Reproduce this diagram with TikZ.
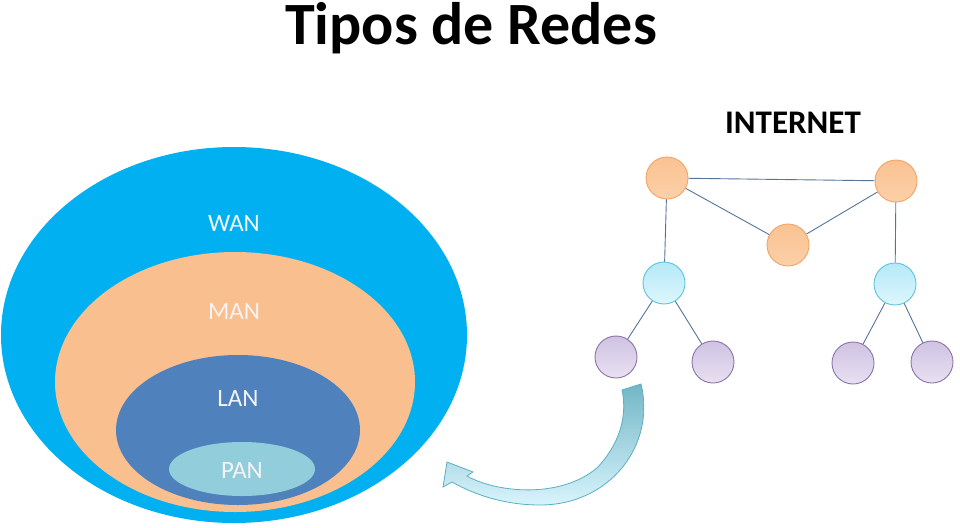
\documentclass[tikz,border=0pt]{standalone}
\usepackage{fontspec}
\setmainfont{Carlito}
\usetikzlibrary{calc}
\definecolor{wanc}{HTML}{00B0F0}
\definecolor{manc}{HTML}{F9BF8F}
\definecolor{lanc}{HTML}{4F81BD}
\definecolor{panc}{HTML}{92CDDC}
\definecolor{edgec}{HTML}{56739A}
\definecolor{orgB}{HTML}{F3A465}
\definecolor{orgT}{HTML}{FAC293}
\definecolor{orgL}{HTML}{FCD0A8}
\definecolor{cyB}{HTML}{5CC3DE}
\definecolor{cyT}{HTML}{B5E9F8}
\definecolor{cyL}{HTML}{DDF6FD}
\definecolor{puB}{HTML}{8B73A8}
\definecolor{puT}{HTML}{CFC3E2}
\definecolor{puL}{HTML}{E8E0F2}
\definecolor{arrB}{HTML}{5AAFC3}
\definecolor{arrD}{HTML}{72B6C6}
\definecolor{arrL}{HTML}{D8F4FC}
\definecolor{labc}{HTML}{F4F4F4}
\tikzset{
  reglabel/.style={text=labc,font=\fontsize{25}{30}\selectfont,inner sep=0pt},
  netnode/.style={circle,minimum size=42pt,inner sep=0pt,line width=0.9pt},
  orgnode/.style={netnode,draw=orgB,top color=orgT,bottom color=orgL},
  cynode/.style={netnode,draw=cyB,top color=cyT,bottom color=cyL},
  punode/.style={netnode,draw=puB,top color=puT,bottom color=puL},
  link/.style={draw=edgec,line width=0.9pt},
}
\begin{document}
\begin{tikzpicture}[x=1pt,y=-1pt]
\useasboundingbox (0,0) rectangle (960,527);
% title
\node[font=\bfseries\fontsize{60}{70}\selectfont,inner sep=0pt,anchor=base] (title) at (471,45) {Tipos de Redes};
% nested ellipses
\fill[wanc] (234,335) ellipse [x radius=233,y radius=188];
\fill[manc] (235,382) ellipse [x radius=180,y radius=130];
\fill[lanc] (238,430) ellipse [x radius=122,y radius=75];
\fill[panc] (242,469) ellipse [x radius=73,y radius=27];
\node[reglabel] (wan) at (234,223) {WAN};
\node[reglabel] (man) at (234,311) {MAN};
\node[reglabel] (lan) at (238,398) {LAN};
\node[reglabel] (pan) at (242,470) {PAN};
% internet label
\node[font=\bfseries\fontsize{33}{38}\selectfont,inner sep=0pt,anchor=base] (inet) at (793,133) {INTERNET};
% network nodes
\node[orgnode] (o1) at (667,178) {};
\node[orgnode] (o2) at (896,181) {};
\node[orgnode] (o3) at (788,245) {};
\node[cynode] (c1) at (664,283) {};
\node[cynode] (c2) at (895,284) {};
\node[punode] (p1) at (616,357) {};
\node[punode] (p2) at (713,362) {};
\node[punode] (p3) at (853,363) {};
\node[punode] (p4) at (932,362) {};
\path[link] (o1) -- (o2);
\path[link] (o1) -- (o3);
\path[link] (o3) -- (o2);
\path[link] (o1) -- (c1);
\path[link] (o2) -- (c2);
\path[link] (c1) -- (p1);
\path[link] (c1) -- (p2);
\path[link] (c2) -- (p3);
\path[link] (c2) -- (p4);
% curved arrow
\path[draw=arrB,line width=0.8pt,top color=arrD,bottom color=arrL]
  (622,390) -- (641,384)
  .. controls (656,445) and (610,505) .. (540,505)
  .. controls (505,505) and (475,495) .. (452,482)
  -- (443,487) -- (447,462) -- (473,472) -- (467,476)
  .. controls (495,492) and (560,500) .. (598,467)
  .. controls (618,445) and (628,418) .. (622,390) -- cycle;
\end{tikzpicture}
\end{document}
